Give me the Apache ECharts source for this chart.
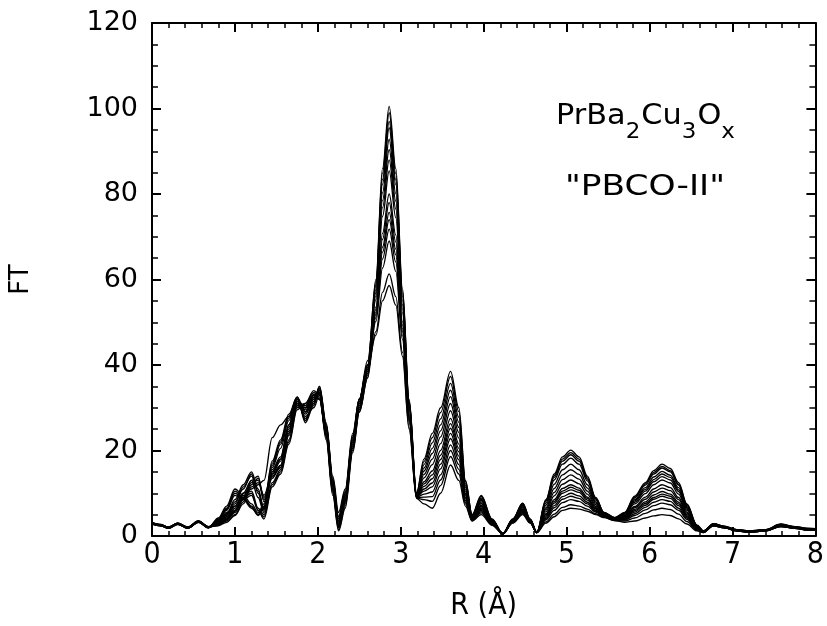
<!DOCTYPE html>
<html>
<head>
<meta charset="utf-8">
<script src="https://cdn.jsdelivr.net/npm/echarts@6/dist/echarts.min.js"></script>
<style>
html,body{margin:0;padding:0;background:#fff;}
#chart{width:827px;height:626px;}
</style>
</head>
<body>
<div id="chart"></div>
<script>
// R grid (Å)
const R = [0, 0.1, 0.2, 0.31, 0.43, 0.56, 0.68, 0.8, 0.9, 1.0, 1.1, 1.2, 1.28, 1.35, 1.45, 1.55, 1.65, 1.75, 1.85, 1.95, 2.02, 2.1, 2.18, 2.25, 2.33, 2.42, 2.5, 2.6, 2.7, 2.78, 2.86, 2.94, 3.02, 3.1, 3.19, 3.28, 3.38, 3.48, 3.6, 3.7, 3.78, 3.86, 3.97, 4.1, 4.23, 4.35, 4.47, 4.56, 4.64, 4.75, 4.85, 4.95, 5.05, 5.15, 5.25, 5.35, 5.45, 5.58, 5.7, 5.82, 5.95, 6.05, 6.15, 6.25, 6.35, 6.45, 6.57, 6.65, 6.77, 6.9, 7.05, 7.2, 7.4, 7.58, 7.75, 7.9, 8.0];

// FT curves
const ft01 = [3.0,2.6,1.9,2.9,2.0,3.4,2.1, 3.5,5,8,11,14.5,10,6, 15,18,26,32,29,32,34,25,12,3,9,22,31,39, 60,86,100.5,86,58,32,10, 18,24,30,38.5,30,13,5, 9.5,4,0.5,4,7.7,4,0.9, 8.5,14.5,18.5,20.1,18.5,14,9,5.5,4.3, 5.5,9.3,12.5,15.3,16.8,15.8,12.5,7.5,2.6,1.2, 2.8,2.2,1.4,1.1,1.5,2.6,2.1,1.7,1.6];
const ft02 = [2.8,2.4,2.0,2.8,1.8,3.2,2.0, 4,6.5,10.5,9,7,5,7, 17,22,28,32.5,27,31,35,26,13,4,10,23,32,40, 59.5,84.9,99,84.8,57.4,31.7,10, 17.4,23.0,28.9,37.3,29.1,12.7,4.9, 9.3,3.9,0.6,3.9,7.6,3.9,0.8, 8.3,14.1,18.0,19.5,18.0,13.6,8.8,5.5,4.3, 5.4,9.1,12.2,14.9,16.3,15.3,12.1,7.3,2.5,1.2, 2.5,2.0,1.2,0.9,1.2,2.3,2.0,1.5,1.5];
const ft03 = [3.1,2.7,2.1,3.0,2.1,3.5,2.2, 2.5,3.5,5,8,12,13.5,9, 14,16,24,31,30,33,32,24,11,2,8,21,30,38, 58.9,83.4,97,83.3,56.7,31.4,9.8, 16.7,21.8,27.4,35.7,27.8,12.2,4.8, 8.9,3.8,0.5,3.9,7.4,3.9,0.9, 8.1,13.7,17.5,19.0,17.5,13.3,8.7,5.4,4.2, 5.3,8.9,11.9,14.5,15.9,15.0,11.9,7.1,2.5,1.2, 2.9,2.3,1.5,1.2,1.4,2.7,2.2,1.8,1.7];
const ft04 = [2.9,2.5,1.8,2.7,1.9,3.3,1.9, 3,4,6,9,10,6,4.5, 12,15,22,30,31,33.5,33,23,10,1.5,7,20,29,37, 58.5,82.3,95.5,82.2,56.1,31.2,9.6, 15.9,20.5,26.0,34.1,26.6,11.8,4.7, 8.6,3.7,0.4,3.8,7.2,3.8,0.8, 7.7,13.1,16.8,18.2,16.8,12.9,8.4,5.3,4.2, 5.2,8.5,11.3,13.8,15.1,14.2,11.3,6.8,2.4,1.1, 2.6,2.1,1.3,1.0,1.3,2.4,1.9,1.6,1.4];
const ft05 = [3.0,2.6,2.0,2.9,2.0,3.4,2.1, 3.2,4.5,7,10,13,9,5.5, 14.5,17.5,25,31.5,29.5,32.5,33.5,24.5,11.5,2.5,8.5,21.5,30.5,38.5, 57.6,80.3,92.8,80.1,55.1,30.7,9.5, 15.2,19.3,24.6,32.6,25.4,11.4,4.6, 8.3,3.6,0.6,3.7,7.0,3.7,0.9, 7.2,12.1,15.5,16.8,15.5,12.0,8.0,5.2,4.1, 5.1,8.2,10.9,13.2,14.5,13.7,10.8,6.6,2.3,1.1, 2.7,2.1,1.4,1.1,1.4,2.5,2.0,1.6,1.5];
const ft06 = [2.8,2.5,1.9,2.8,1.9,3.3,2.0, 3.5,5.5,7,10,11,12,13, 23,26,28,31,28,30,33,26,14,5.5,11,24,32,41, 56.9,78.5,90.4,78.3,54.1,30.3,9.5, 14.4,18.0,23.2,31.0,24.2,10.9,4.5, 8.0,3.5,0.5,3.7,6.8,3.7,0.8, 6.6,11.1,14.3,15.5,14.4,11.2,7.7,5.1,4.1, 4.9,7.9,10.5,12.7,13.9,13.1,10.4,6.3,2.3,1.1, 2.4,1.9,1.2,0.9,1.2,2.2,1.8,1.4,1.3];
const ft07 = [3.1,2.6,2.0,3.0,2.0,3.5,2.1, 2.8,4,6,9,13,14,8, 13.5,16.5,24.5,31.5,30.5,33,32.5,24,11,2.5,8,21,30,38.5, 56.1,76.8,88,76.5,53.2,29.9,9.4, 13.6,16.7,21.6,29.3,22.9,10.5,4.4, 7.6,3.4,0.5,3.6,6.6,3.6,0.9, 6.2,10.2,13.2,14.3,13.3,10.5,7.3,5.0,4.0, 4.8,7.5,9.9,12.0,13.1,12.4,9.8,6.0,2.2,1.1, 2.8,2.2,1.5,1.1,1.4,2.7,2.1,1.8,1.7];
const ft08 = [2.9,2.4,1.8,2.9,1.8,3.3,2.0, 3.8,6,9.5,8.5,6.5,5,6.5, 16,20.5,27,32,27.5,31,34,25.5,12.5,3.5,9.5,22.5,31.5,39.5, 55.3,74.8,85.4,74.5,52.2,29.5,9.4, 12.7,15.2,20.0,27.5,21.5,10.0,4.2, 7.2,3.3,0.6,3.5,6.3,3.5,0.8, 5.7,9.4,12.1,13.1,12.2,9.8,6.9,4.9,3.9, 4.6,6.9,9.1,11.0,12.0,11.3,9.0,5.6,2.0,1.0, 2.5,2.0,1.3,1.0,1.3,2.3,1.9,1.5,1.4];
const ft09 = [3.0,2.5,1.9,2.8,2.0,3.4,2.0, 3,4.2,6.5,9.5,10.5,6.5,5, 12.5,15.5,22.5,30.5,30.5,33,33.5,23.5,10.5,2,7.5,20.5,29.5,37.5, 53.6,70.8,80,70.4,50.2,28.6,9.3, 12.2,14.3,18.9,26.3,20.5,9.7,4.2, 7.0,3.2,0.5,3.4,6.2,3.4,0.9, 5.2,8.5,11.1,12.0,11.2,9.1,6.6,4.8,3.9, 4.4,6.6,8.6,10.3,11.2,10.6,8.5,5.3,1.9,1.0, 2.6,2.0,1.4,1.0,1.3,2.4,2.0,1.6,1.5];
const ft10 = [2.9,2.6,2.0,2.9,1.9,3.3,2.1, 3.3,4.8,7.5,11.5,14,10.5,6.5, 15.5,18.5,26,32.5,29,32,34.5,25,12,3,9,22,31,39, 53.0,69.4,78,68.8,49.4,28.2,9.2, 11.6,13.4,17.9,25.2,19.7,9.4,4.1, 6.8,3.1,0.6,3.4,6.1,3.4,0.8, 5.0,8.1,10.5,11.4,10.7,8.8,6.4,4.7,3.9, 4.3,6.2,8.0,9.6,10.4,9.8,7.9,5.0,1.8,1.0, 2.7,2.1,1.3,1.1,1.4,2.6,2.0,1.7,1.6];
const ft11 = [3.0,2.7,2.1,3.0,2.1,3.4,2.2, 2.6,3.8,5.5,8.5,12.5,13,8.5, 14,16,23.5,30.5,30,32.5,32,23.5,10.5,2,8,20.5,29.5,38, 52.3,67.6,75.7,67.1,48.5,27.9,9.2, 11.0,12.4,16.8,24.0,18.7,9.0,4.0, 6.5,3.0,0.5,3.3,5.9,3.3,0.8, 4.7,7.7,10.0,10.8,10.2,8.4,6.3,4.7,3.8, 4.1,5.9,7.6,9.0,9.8,9.3,7.5,4.7,1.8,0.9, 2.4,1.9,1.2,0.9,1.2,2.2,1.8,1.4,1.3];
const ft12 = [2.8,2.4,1.9,2.8,1.8,3.2,1.9, 4.2,7,11,9.5,7.5,5.5,7.5, 17.5,22.5,28.5,32.5,26.5,30.5,34.5,26,13,4.5,10.5,23.5,32,40, 51.8,66.4,74,65.8,47.9,27.6,9.1, 10.5,11.5,15.7,22.8,17.8,8.7,3.9, 6.3,2.9,0.6,3.3,5.8,3.3,0.9, 4.4,7.1,9.2,10.0,9.4,7.9,6.0,4.6,3.8, 4.0,5.6,7.2,8.6,9.3,8.8,7.1,4.5,1.7,0.9, 2.9,2.3,1.5,1.2,1.5,2.8,2.2,1.8,1.7];
const ft13 = [3.1,2.6,2.0,3.0,2.0,3.5,2.1, 2.9,3.8,5.8,8.5,9.5,6,4, 11.5,14.5,21.5,29.5,31,34,33,22.5,9.5,1.2,6.5,19.5,29,37, 51.1,64.8,71.8,64.1,47.0,27.2,9.0, 9.8,10.3,14.3,21.3,16.7,8.3,3.8, 6.0,2.8,0.5,3.2,5.6,3.2,0.8, 4.1,6.6,8.6,9.3,8.8,7.5,5.8,4.6,3.7, 3.9,5.2,6.7,7.9,8.5,8.1,6.5,4.2,1.6,0.9, 2.5,2.0,1.3,1.0,1.3,2.3,1.9,1.5,1.4];
const ft14 = [2.9,2.5,1.9,2.9,2.0,3.3,2.0, 3.6,5.2,8.5,12,15,11,6.2, 15,18,25.5,31.5,28.5,31.5,33.5,25,12.5,3.5,9.5,22.5,31.5,39.5, 50.2,62.7,69,61.9,46.0,26.7,9.0, 9.1,9.2,13.1,20.0,15.6,7.9,3.7, 5.7,2.7,0.6,3.2,5.4,3.2,0.8, 3.8,6.0,7.8,8.5,8.1,7.0,5.6,4.5,3.7, 3.7,4.8,6.1,7.1,7.7,7.3,6.0,3.9,1.5,0.9, 2.6,2.1,1.4,1.0,1.3,2.5,2.0,1.6,1.5];
const ft15 = [3.0,2.6,2.0,2.9,2.0,3.4,2.1, 2.4,3.2,4.8,7.5,11.5,12.5,9.5, 14.5,16.5,24,30.5,30,33,32,24,11.5,2.5,8.5,21.5,30.5,38.5, 47.8,57.0,61.3,56.0,43.0,25.4,8.9, 8.5,8.1,11.8,18.6,14.5,7.5,3.6, 5.4,2.6,0.5,3.1,5.2,3.1,0.8, 3.3,5.1,6.7,7.3,7.0,6.3,5.2,4.4,3.6, 3.5,4.2,5.3,6.1,6.5,6.2,5.1,3.4,1.4,0.8, 2.8,2.2,1.4,1.1,1.4,2.7,2.1,1.7,1.6];
const ft16 = [2.9,2.5,1.8,2.8,1.9,3.3,2.0, 3.8,6.2,10,8.8,6.8,4.8,6.8, 16.5,21.5,27.5,32.5,27,31.5,35,26.5,13.5,4.5,10,23,32,40, 47,55,58.6,54,42,25,8.8, 7.5,6.5,10,16.6,13,7,3.5, 5.0,2.5,0.6,3.0,5.0,3.0,0.8, 3,4.5,6,6.5,6.3,5.8,5,4.3,3.6, 3.2,3.5,4.2,4.7,5.0,4.8,4.0,2.8,1.2,0.8, 2.4,1.9,1.2,0.9,1.2,2.2,1.8,1.4,1.3];

const curves = [ft01, ft02, ft03, ft04, ft05, ft06, ft07, ft08, ft09, ft10, ft11, ft12, ft13, ft14, ft15, ft16];

const xTicks = [0,1,2,3,4,5,6,7,8];
const yTicks = [0,20,40,60,80,100,120];

const formulaParts = [['PrBa', 0], ['2', 1], ['Cu', 0], ['3', 1], ['O', 0], ['x', 1]];
const sampleLabel = '"PBCO-II"';

const FONT = 'DejaVu Sans';
const NARROW = '"Liberation Sans Narrow", "DejaVu Sans Condensed", "Liberation Sans", sans-serif';

const chart = echarts.init(document.getElementById('chart'), null, {renderer:'canvas'});

const series = curves.map(function (c, i) {
  return {
    type: 'line',
    name: 'c' + (i + 1),
    data: R.map(function (r, j) { return [r, c[j]]; }),
    showSymbol: false,
    smooth: 0.35,
    smoothMonotone: 'x',
    lineStyle: { color: '#000', width: 1.35 },
    silent: true,
    z: 3
  };
});

// text measuring for annotation layout
const mctx = document.createElement('canvas').getContext('2d');
function textW(str, size, fam) { mctx.font = size + 'px ' + fam; return mctx.measureText(str).width; }

const MAIN = 29, SUB = 22;
let cx = 0;
const formulaEls = formulaParts.map(function (p) {
  const sz = p[1] ? SUB : MAIN;
  const el = {
    type: 'text', x: cx, y: p[1] ? 16 : 0,
    style: { text: p[0], fontSize: sz, fontFamily: FONT, fill: '#000', textVerticalAlign: 'middle', textAlign: 'left' }
  };
  cx += textW(p[0], sz, FONT) + (p[1] ? 1 : 0);
  return el;
});
const formulaScale = 180 / cx;
const sampleW = textW(sampleLabel, MAIN, FONT);
const sampleScale = 160 / sampleW;

function frameAxis(extra) {
  return Object.assign({
    type: 'value',
    axisLine: { show: true, onZero: false, lineStyle: { color: '#000', width: 2 } },
    axisTick: { show: true, inside: true, length: 9, lineStyle: { color: '#000', width: 2 } },
    minorTick: { show: true, length: 5, lineStyle: { color: '#000', width: 1.5 } },
    splitLine: { show: false },
    minorSplitLine: { show: false }
  }, extra);
}

const option = {
  animation: false,
  backgroundColor: '#fff',
  grid: { left: 151, right: 7, top: 23, bottom: 88, containLabel: false },
  xAxis: [
    frameAxis({
      min: xTicks[0], max: xTicks[xTicks.length - 1], interval: 1,
      minorTick: { show: true, splitNumber: 5, length: 5, lineStyle: { color: '#000', width: 1.5 } },
      axisLabel: { color: '#000', fontSize: 30, fontFamily: NARROW, margin: 4 },
      name: 'R (Å)', nameLocation: 'middle', nameGap: 55,
      nameTextStyle: { color: '#000', fontSize: 30, fontFamily: NARROW }
    }),
    frameAxis({
      position: 'top',
      min: xTicks[0], max: xTicks[xTicks.length - 1], interval: 1,
      minorTick: { show: true, splitNumber: 5, length: 5, lineStyle: { color: '#000', width: 1.5 } },
      axisLabel: { show: false }
    })
  ],
  yAxis: [
    frameAxis({
      min: yTicks[0], max: yTicks[yTicks.length - 1], interval: 20,
      minorTick: { show: true, splitNumber: 4, length: 6, lineStyle: { color: '#000', width: 1.5 } },
      axisLabel: { color: '#000', fontSize: 27, fontFamily: FONT, margin: 14 },
      name: 'FT', nameLocation: 'middle', nameGap: 118, nameRotate: 90,
      nameTextStyle: { color: '#000', fontSize: 26, fontFamily: FONT }
    }),
    frameAxis({
      position: 'right',
      min: yTicks[0], max: yTicks[yTicks.length - 1], interval: 20,
      minorTick: { show: true, splitNumber: 4, length: 6, lineStyle: { color: '#000', width: 1.5 } },
      axisLabel: { show: false }
    })
  ],
  graphic: [
    {
      type: 'group', x: 556, y: 116, scaleX: formulaScale, scaleY: 1, z: 10,
      children: formulaEls
    },
    {
      type: 'text', x: 645, y: 187, scaleX: sampleScale, z: 10,
      style: { text: sampleLabel, fontSize: MAIN, fontFamily: FONT, fill: '#000', textAlign: 'center', textVerticalAlign: 'middle' }
    }
  ],
  series: series
};

chart.setOption(option);
</script>
</body>
</html>
